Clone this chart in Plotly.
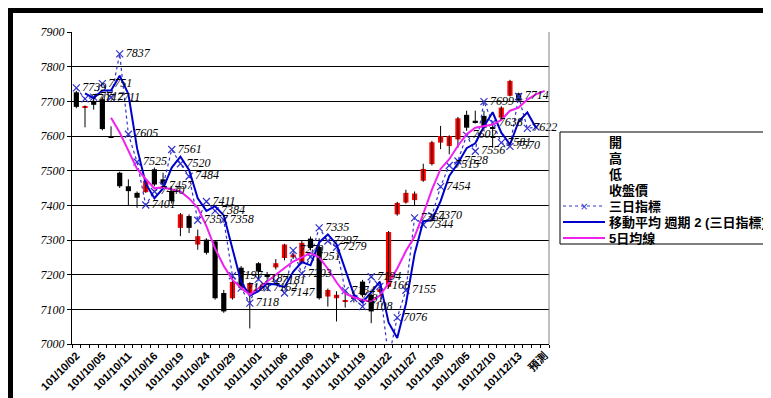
import plotly.graph_objects as go

# ---------------- data ----------------
tick_labels = ["101/10/02", "101/10/05", "101/10/11", "101/10/16", "101/10/19",
               "101/10/24", "101/10/29", "101/11/01", "101/11/06", "101/11/09",
               "101/11/14", "101/11/19", "101/11/22", "101/11/27", "101/11/30",
               "101/12/05", "101/12/10", "101/12/13", "預測"]
n_cats = 55

open_ = [7726, 7681, 7698, 7706, 7598, 7494, 7455, 7436, 7438, 7504,
         7475, 7441, 7335, 7369, 7287, 7301, 7296, 7147, 7132, 7220,
         7144, 7233, 7200, 7221, 7248, 7250, 7234, 7304, 7280, 7137,
         7132, 7122, 7140, 7180, 7142, 7150, 7165, 7374, 7408, 7415,
         7471, 7519, 7581, 7571, 7590, 7661, 7644, 7658, 7626, 7653,
         7716, 7723]
high = [7730, 7688, 7712, 7711, 7628, 7497, 7475, 7440, 7475, 7509,
        7494, 7445, 7378, 7374, 7330, 7305, 7300, 7156, 7195, 7225,
        7178, 7236, 7208, 7245, 7289, 7262, 7298, 7310, 7305, 7160,
        7152, 7150, 7150, 7185, 7145, 7165, 7326, 7410, 7445, 7440,
        7520, 7586, 7629, 7602, 7655, 7673, 7673, 7673, 7634, 7686,
        7762, 7725]
low = [7680, 7625, 7676, 7616, 7594, 7450, 7398, 7393, 7436, 7455,
       7456, 7405, 7311, 7320, 7272, 7258, 7128, 7090, 7128, 7155,
       7045, 7190, 7188, 7215, 7241, 7245, 7230, 7270, 7128, 7108,
       7065, 7105, 7120, 7135, 7060, 7145, 7160, 7370, 7405, 7400,
       7468, 7515, 7562, 7547, 7566, 7615, 7636, 7618, 7566, 7650,
       7714, 7700]
close = [7684, 7684, 7690, 7620, 7595, 7455, 7441, 7422, 7471, 7460,
         7460, 7412, 7374, 7335, 7311, 7263, 7132, 7094, 7179, 7161,
         7176, 7209, 7195, 7233, 7287, 7258, 7292, 7277, 7132, 7156,
         7142, 7127, 7130, 7142, 7094, 7158, 7323, 7407, 7436, 7434,
         7505, 7582, 7600, 7600, 7651, 7624, 7639, 7624, 7623, 7682,
         7759, 7702]

# 三日指標 (categories 0..53)
ind3 = [7739, 7707, 7712, 7751, 7711, 7837, 7605, 7525, 7401, 7440,
        7457, 7561, 7520, 7484, 7357, 7411, 7384, 7358, 7197, 7161,
        7118, 7187, 7162, 7181, 7147, 7270, 7203, 7251, 7335, 7297,
        7279, 7154, 7131, 7108, 7194, 7166, 6958, 7076, 7155, 7364,
        7344, 7370, 7454, 7515, 7528, 7602, 7556, 7699, 7638, 7581,
        7570, 7714, 7622, 7626]
ind3_hidden_labels = [36, 53]

# 移動平均 週期 2 (三日指標) (categories 1..53)
ma2 = [7723, 7709.5, 7731.5, 7731, 7774, 7721, 7565, 7463, 7420.5, 7448.5,
       7509, 7540.5, 7502, 7420.5, 7384, 7397.5, 7371, 7277.5, 7179, 7139.5,
       7152.5, 7174.5, 7171.5, 7164, 7208.5, 7236.5, 7227, 7293, 7316, 7288,
       7216.5, 7142.5, 7119.5, 7151, 7180, 7062, 7017, 7115.5, 7259.5, 7354,
       7357, 7412, 7484.5, 7521.5, 7565, 7579, 7627.5, 7668.5, 7609.5, 7575.5,
       7642, 7668, 7624]

# 5日均線 (categories 4..54)
ma5 = [7653, 7610, 7558, 7505, 7476, 7449, 7452, 7447, 7440, 7420,
       7393, 7340, 7275, 7225, 7185, 7162, 7142, 7161, 7181, 7200,
       7219, 7238, 7250, 7262, 7250, 7217, 7178, 7145, 7135, 7127,
       7122, 7140, 7175, 7218, 7268, 7310, 7375, 7445, 7505, 7533,
       7572, 7605, 7624, 7629, 7633, 7646, 7673, 7682, 7705, 7720,
       7730]

legend_items = ["開", "高", "低", "收盤價", "三日指標", "移動平均 週期 2 (三日指標)", "5日均線"]

# ---------------- geometry ----------------
W, H = 771, 398
ML, MR, MT, MB = 64, 230, 24, 62
PW, PH = W - ML - MR, H - MT - MB


def px(x):
    return (x - ML) / PW


def py(y):
    return (H - MB - y) / PH


RED = "#FF0000"
BLUE_DOT = "#3333CC"
BLUE = "#0000CC"
MAGENTA = "#F020F0"

fig = go.Figure()

# wicks
cx = list(range(len(open_)))
wx, wy = [], []
for i in cx:
    wx += [i, i, None]
    wy += [low[i], high[i], None]
fig.add_trace(go.Scatter(x=wx, y=wy, mode="lines",
                         line=dict(color="black", width=1), hoverinfo="skip"))

# bodies
bases = [min(o, c) for o, c in zip(open_, close)]
heights = [max(abs(c - o), 2) for o, c in zip(open_, close)]
colors = [RED if c > o else "black" for o, c in zip(open_, close)]
fig.add_trace(go.Bar(x=cx, y=heights, base=bases, width=0.6,
                     marker=dict(color=colors, line=dict(width=0))))

# 三日指標
ix = list(range(len(ind3)))
fig.add_trace(go.Scatter(x=ix, y=ind3, mode="lines+markers",
                         line=dict(color=BLUE_DOT, width=1.2, dash="dot"),
                         marker=dict(symbol="x-thin", size=7,
                                     line=dict(width=1.2, color=BLUE_DOT)),
                         cliponaxis=True))

# moving average (period 2)
fig.add_trace(go.Scatter(x=list(range(1, 1 + len(ma2))), y=ma2, mode="lines",
                         line=dict(color=BLUE, width=2)))

# 5日均線
fig.add_trace(go.Scatter(x=list(range(4, 4 + len(ma5))), y=ma5, mode="lines",
                         line=dict(color=MAGENTA, width=2)))

# data labels
labels = ["" if i in ind3_hidden_labels else "\u2002" + str(v)
          for i, v in enumerate(ind3)]
fig.add_trace(go.Scatter(x=ix, y=ind3, mode="text", text=labels,
                         textposition="middle right",
                         textfont=dict(family="Liberation Serif", size=12,
                                       color="black", style="italic"),
                         cliponaxis=False))

shapes = []
# white chart area
shapes.append(dict(type="rect", xref="paper", yref="paper",
                   x0=px(5), x1=px(765), y0=py(390), y1=py(5),
                   fillcolor="white", line=dict(width=0), layer="below"))
# right border of plot area
shapes.append(dict(type="line", xref="paper", yref="paper",
                   x0=1, x1=1, y0=0, y1=1,
                   line=dict(color="#808080", width=1)))
# legend box
shapes.append(dict(type="rect", xref="paper", yref="paper",
                   x0=px(552), x1=px(761), y0=py(236), y1=py(124),
                   fillcolor="white", line=dict(color="black", width=1)))

annotations = []
ys = [134, 150, 166, 182, 198, 214, 230]
for name, yy in zip(legend_items, ys):
    annotations.append(dict(x=px(599), y=py(yy), xref="paper", yref="paper",
                            text=name, showarrow=False, xanchor="left",
                            yanchor="middle",
                            font=dict(family="Liberation Sans, Noto Sans CJK TC",
                                      size=13, color="black", weight="bold")))
# legend symbols
shapes.append(dict(type="line", xref="paper", yref="paper",
                   x0=px(555), x1=px(597), y0=py(198), y1=py(198),
                   line=dict(color=BLUE_DOT, width=1.2, dash="dot")))
annotations.append(dict(x=px(576), y=py(198), xref="paper", yref="paper",
                        text="×", showarrow=False, xanchor="center",
                        yanchor="middle",
                        font=dict(family="DejaVu Sans", size=10, color=BLUE_DOT)))
shapes.append(dict(type="line", xref="paper", yref="paper",
                   x0=px(555), x1=px(597), y0=py(214), y1=py(214),
                   line=dict(color=BLUE, width=2)))
shapes.append(dict(type="line", xref="paper", yref="paper",
                   x0=px(555), x1=px(597), y0=py(230), y1=py(230),
                   line=dict(color=MAGENTA, width=2)))

fig.update_layout(
    width=W, height=H,
    margin=dict(l=ML, r=MR, t=MT, b=MB, pad=0),
    paper_bgcolor="black", plot_bgcolor="white",
    showlegend=False,
    shapes=shapes, annotations=annotations,
    xaxis=dict(range=[-0.5, n_cats - 0.5],
               tickmode="array",
               tickvals=list(range(0, n_cats, 3)),
               ticktext=tick_labels,
               tickangle=-45,
               tickfont=dict(family="Liberation Sans, Noto Sans CJK TC",
                             size=11, color="black", weight="bold"),
               ticks="", showgrid=False, zeroline=False,
               showline=True, linecolor="black", linewidth=1,
               minor=dict(tickmode="array",
                          tickvals=[k - 0.5 for k in range(n_cats + 1)],
                          ticks="outside", ticklen=3, tickcolor="black",
                          showgrid=False)),
    yaxis=dict(range=[7000, 7900], dtick=100, tick0=7000,
               showgrid=True, gridcolor="black", gridwidth=1,
               zeroline=False, showline=True, linecolor="black", linewidth=1,
               ticks="outside", ticklen=4, tickcolor="black",
               tickfont=dict(family="Liberation Serif", size=12,
                             color="black", style="italic")),
)

fig.write_html("out.html")
